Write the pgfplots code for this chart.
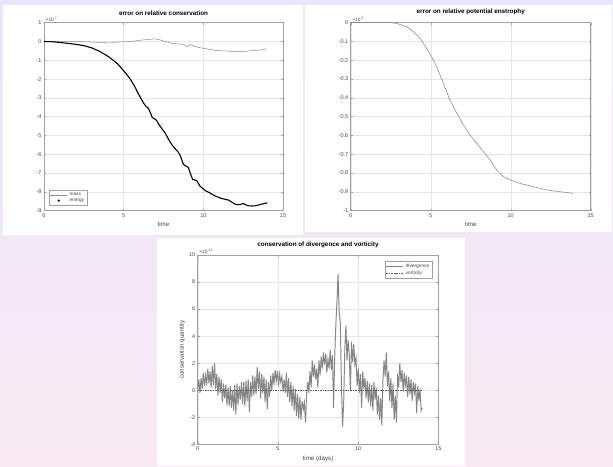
\documentclass[border=0pt]{standalone}
\usepackage{pgfplots}
\pgfplotsset{compat=1.18}
\usepackage{pgfplotstable}
\usepackage{fontspec}
\setmainfont{Liberation Sans}
\definecolor{bgtop}{RGB}{232,231,250}
\definecolor{bgbot}{RGB}{249,234,242}
\definecolor{axgray}{RGB}{160,160,160}
\definecolor{txtgray}{RGB}{70,70,70}
\definecolor{gridgray}{RGB}{230,230,230}

\pgfplotstableread{
t v
0 0
0.5 -0.01
1.0 -0.05
1.4 -0.09
2.0 -0.15
2.5 -0.22
3.0 -0.34
3.5 -0.53
4.0 -0.78
4.35 -1.0
4.6 -1.17
4.77 -1.33
5.1 -1.66
5.4 -1.98
5.7 -2.4
5.92 -2.78
6.1 -3.05
6.24 -3.27
6.4 -3.45
6.55 -3.55
6.68 -3.8
6.8 -4.05
6.95 -4.12
7.07 -4.2
7.2 -4.4
7.39 -4.63
7.6 -4.86
7.75 -5.1
7.91 -5.34
8.05 -5.52
8.22 -5.69
8.4 -5.85
8.54 -6.05
8.65 -6.3
8.75 -6.54
8.9 -6.62
9.06 -6.7
9.2 -7.05
9.33 -7.34
9.45 -7.36
9.58 -7.4
9.79 -7.69
10.1 -7.92
10.4 -8.05
10.63 -8.17
10.9 -8.27
11.15 -8.35
11.4 -8.4
11.57 -8.43
11.8 -8.55
11.99 -8.65
12.15 -8.68
12.3 -8.67
12.51 -8.62
12.7 -8.7
12.83 -8.74
13.05 -8.75
13.25 -8.74
13.45 -8.7
13.67 -8.65
14.02 -8.58
}\energy

\pgfplotstableread{
t v
0 0
1 0
2 0.0
2.8 -0.02
3.5 -0.05
4.15 -0.08
4.6 -0.03
5.0 -0.02
5.5 0.0
5.85 0.05
6.4 0.1
7.0 0.14
7.3 0.08
7.6 0.0
8.0 -0.09
8.2 -0.12
8.5 -0.13
8.75 -0.16
8.9 -0.22
9.0 -0.27
9.1 -0.22
9.2 -0.16
9.4 -0.24
9.6 -0.3
10.2 -0.39
10.8 -0.48
11.6 -0.51
12.0 -0.54
12.5 -0.53
13.1 -0.48
13.5 -0.46
14.0 -0.39
}\mass

\pgfplotstableread{
t v
0 0
1 0
2 0
2.5 0
2.875 -0.004
3.5 -0.021
3.92 -0.048
4.33 -0.083
4.75 -0.137
5.0 -0.172
5.375 -0.234
5.79 -0.323
6.2 -0.41
6.625 -0.48
7.04 -0.544
7.46 -0.598
7.875 -0.642
8.29 -0.686
8.71 -0.73
9.125 -0.784
9.54 -0.819
10.0 -0.837
10.58 -0.855
11.42 -0.872
12.25 -0.89
13.08 -0.899
13.92 -0.908
}\enstrophy

\pgfplotstableread{
t v
0.00 0.0
0.07 0.8
0.14 -0.2
0.21 0.9
0.28 0.1
0.35 1.3
0.42 0.3
0.49 1.1
0.56 0.4
0.63 1.6
0.70 0.5
0.77 1.4
0.84 0.2
0.91 1.8
0.98 0.4
1.05 2.0
1.12 0.1
1.19 1.2
1.26 -0.4
1.33 1.0
1.40 -0.2
1.47 0.8
1.54 -0.9
1.61 0.5
1.68 -0.6
1.75 0.4
1.82 -1.1
1.89 0.2
1.96 -1.2
2.03 0.3
2.10 -1.3
2.17 0.0
2.24 -1.5
2.31 0.4
2.38 -1.8
2.45 0.5
2.52 -1.1
2.59 0.3
2.66 -0.7
2.73 0.6
2.80 -1.0
2.87 0.6
2.94 -1.2
3.01 0.7
3.08 -0.8
3.15 0.8
3.22 -1.6
3.29 0.6
3.36 -0.5
3.43 1.1
3.50 -0.4
3.57 1.0
3.64 -0.3
3.71 1.7
3.78 0.1
3.85 1.4
3.92 -0.6
3.99 1.2
4.06 -0.2
4.13 1.0
4.20 -0.9
4.27 0.8
4.34 -1.4
4.41 0.6
4.48 -0.5
4.55 1.1
4.62 0.0
4.69 1.3
4.76 0.4
4.83 1.5
4.90 0.7
4.97 1.4
5.04 0.3
5.11 1.2
5.18 0.6
5.25 1.0
5.32 -0.1
5.39 0.8
5.46 -0.2
5.53 1.3
5.60 -0.5
5.67 0.9
5.74 -0.9
5.81 0.6
5.88 -1.2
5.95 0.3
6.02 -1.5
6.09 0.1
6.16 -1.9
6.23 -0.3
6.30 -2.1
6.37 -0.5
6.44 -2.2
6.51 -0.8
6.58 -1.4
6.65 -0.9
6.72 -2.4
6.79 -0.3
6.86 0.6
6.93 -0.2
7.00 1.4
7.07 0.2
7.14 2.2
7.21 1.0
7.28 1.9
7.35 0.8
7.42 1.6
7.49 0.2
7.56 2.2
7.63 1.1
7.70 2.5
7.77 1.6
7.84 2.8
7.91 1.9
7.98 2.7
8.05 1.3
8.12 2.3
8.19 1.6
8.26 3.0
8.33 1.5
8.40 2.6
8.47 -1.3
8.54 2.4
8.61 4.8
8.68 6.5
8.75 8.6
8.82 5.8
8.89 5.0
8.96 0.5
9.03 -2.7
9.10 -1.0
9.17 3.0
9.24 4.8
9.31 2.2
9.38 3.7
9.45 2.6
9.52 0.0
9.59 3.6
9.66 2.1
9.73 3.4
9.80 1.9
9.87 2.4
9.94 0.3
10.01 1.6
10.08 -0.2
10.15 1.2
10.22 -1.3
10.29 1.4
10.36 0.1
10.43 0.9
10.50 -0.6
10.57 0.7
10.64 -0.9
10.71 0.5
10.78 -1.2
10.85 0.4
10.92 -1.5
10.99 0.6
11.06 -0.7
11.13 0.2
11.20 -1.8
11.27 -0.4
11.34 -2.2
11.41 -0.6
11.48 -2.6
11.55 0.8
11.62 2.2
11.69 1.0
11.76 2.8
11.83 0.3
11.90 1.4
11.97 -0.8
12.04 0.9
12.11 -1.3
12.18 0.5
12.25 -2.2
12.32 -0.4
12.39 -2.4
12.46 1.2
12.53 0.2
12.60 2.0
12.67 0.6
12.74 1.5
12.81 -0.1
12.88 1.3
12.95 0.2
13.02 1.1
13.09 -0.5
13.16 1.0
13.23 -0.3
13.30 0.8
13.37 -0.8
13.44 0.6
13.51 -0.2
13.58 0.5
13.65 -1.7
13.72 0.3
13.79 -0.8
13.86 0.1
13.93 -1.5
14.00 -1.3
}\divergence

\pgfplotstableread{
t v
0 0
14 0
}\vorticity

\tikzset{
  explabel/.style={anchor=south west, inner sep=0pt, font=\fontsize{4.8}{5.5}\selectfont, text=txtgray, xshift=1.5pt, yshift=0.8pt},
}
\pgfplotsset{
  mstyle/.style={
    scale only axis,
    anchor=south west,
    clip mode=individual,
    axis line style={draw=axgray, line width=0.5pt},
    tick style={draw=axgray, line width=0.4pt},
    major tick length=2pt,
    tick align=inside,
    xmajorgrids, ymajorgrids,
    grid style={draw=gridgray, line width=0.4pt},
    tick label style={font=\fontsize{5.5}{6}\selectfont, text=txtgray},
    /pgf/number format/assume math mode=true,
    title style={font=\fontsize{6.3}{7}\selectfont\bfseries, at={(0.5,1)}, anchor=south, inner sep=1pt, yshift=0.3pt},
    label style={font=\fontsize{6.2}{7}\selectfont, text=txtgray},
    xlabel style={yshift=2pt},
    scaled ticks=false,
    xmin=0, xmax=15, xtick={0,5,10,15},
    xticklabel style={yshift=1pt},
    yticklabel style={xshift=1pt},
    legend style={font=\fontsize{4.8}{5.5}\selectfont, draw=axgray, line width=0.4pt, inner sep=0.8pt, row sep=-2.2pt, cells={anchor=west}, text=txtgray},
  },
}

\begin{document}
\begin{tikzpicture}
\useasboundingbox (0pt,0pt) rectangle (613pt,466pt);
\shade[top color=bgtop, bottom color=bgbot] (0pt,0pt) rectangle (613pt,466pt);
\fill[white] (3pt,231pt) rectangle (303pt,461pt);
\fill[white] (305pt,234pt) rectangle (612pt,461pt);
\fill[white] (157pt,0pt) rectangle (465pt,228pt);

% top-left
\begin{axis}[mstyle, at={(44pt,255.3pt)}, width=239pt, height=188pt,
  ymin=-9, ymax=1, ytick={-9,-8,...,1},
  title={error on relative conservation}, xlabel={time},
  legend style={at={(rel axis cs:0,0)}, anchor=south west, xshift=5pt, yshift=5pt}]
\addplot[color=black!45, line width=0.5pt] table[x=t,y=v] {\mass};
\addlegendentry{mass}
\addplot[color=black, line width=1.1pt, legend image code/.code={\fill[black] (0.3cm,0) circle (0.45pt);}] table[x=t,y=v] {\energy};
\addlegendentry{energy}
\node[explabel] at (rel axis cs:0,1) {×10\textsuperscript{-7}};
\end{axis}

% top-right
\begin{axis}[mstyle, at={(350.7pt,255.3pt)}, width=240pt, height=188pt,
  ymin=-1, ymax=0, ytick={-1,-0.9,...,0},
  yticklabel style={/pgf/number format/fixed, /pgf/number format/precision=1},
  title={error on relative potential enstrophy}, xlabel={time}]
\addplot[color=black!50, line width=0.5pt] table[x=t,y=v] {\enstrophy};
\node[explabel] at (rel axis cs:0,1) {×10\textsuperscript{-3}};
\end{axis}

% bottom
\begin{axis}[mstyle, at={(197.7pt,21.7pt)}, width=240.6pt, height=189.3pt,
  ymin=-4, ymax=10, ytick={-4,-2,...,10},
  title={conservation of divergence and vorticity},
  xlabel={time (days)}, ylabel={conservation quantity},
  ylabel style={yshift=-3pt},
  legend style={at={(rel axis cs:1,1)}, anchor=north east, xshift=-6pt, yshift=-6pt}]
\addplot[color=black!48, line width=0.95pt] table[x=t,y=v] {\divergence};
\addlegendentry{divergence}
\addplot[color=black!65, line width=0.4pt, dash pattern=on 1.5pt off 1pt] table[x=t,y=v] {\vorticity};
\addlegendentry{vorticity}
\node[explabel] at (rel axis cs:0,1) {×10\textsuperscript{-13}};
\end{axis}
\end{tikzpicture}
\end{document}
